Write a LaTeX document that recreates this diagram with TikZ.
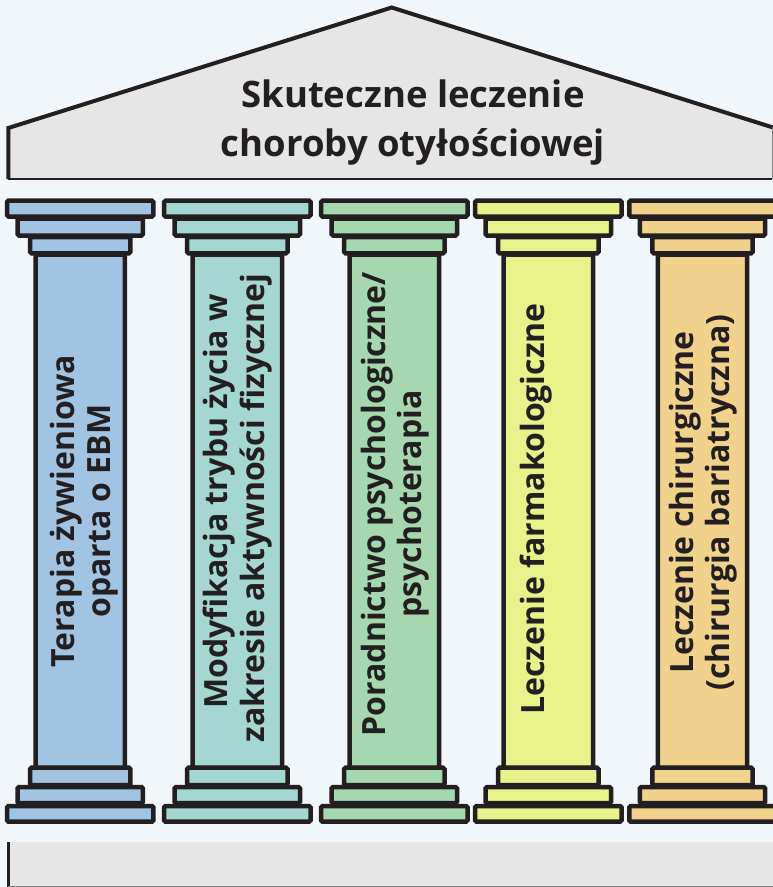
\documentclass[tikz,border=0pt]{standalone}
\usepackage{fontspec}
\setmainfont{Open Sans}
\definecolor{bg}{HTML}{F0F6FA}
\definecolor{ink}{HTML}{231F20}
\definecolor{roofc}{HTML}{E6E6E6}
\definecolor{cA}{HTML}{A0C4E2}
\definecolor{cB}{HTML}{A4D6D2}
\definecolor{cC}{HTML}{A6D8B0}
\definecolor{cD}{HTML}{E8F28A}
\definecolor{cE}{HTML}{F0D28C}
\tikzset{
  pil/.style={draw=ink, line width=4.5pt, rounded corners=1.5pt},
  pilltext/.style={rotate=90, align=center, inner sep=0pt, text=ink,
    font=\bfseries\fontsize{32}{36.5}\selectfont},
  titletext/.style={align=center, inner sep=0pt, text=ink,
    font=\bfseries\fontsize{36.5}{49}\selectfont},
}
\newcommand\mypillar[2]{%
  \draw[pil, fill=#2] ({#1-44.7},254.5) rectangle ({#1+44.7},768);
  \draw[pil, fill=#2] ({#1-50.2},237) rectangle ({#1+50.2},253.3);
  \draw[pil, fill=#2] ({#1-62.7},218.5) rectangle ({#1+62.7},235.5);
  \draw[pil, fill=#2] ({#1-73.2},200.6) rectangle ({#1+73.2},216.5);
  \draw[pil, fill=#2] ({#1-50.2},767.7) rectangle ({#1+50.2},785);
  \draw[pil, fill=#2] ({#1-62.7},787) rectangle ({#1+62.7},803.2);
  \draw[pil, fill=#2] ({#1-73.2},806) rectangle ({#1+73.2},821.7);
}
\begin{document}
\begin{tikzpicture}[x=1pt,y=-1pt]
\useasboundingbox (0,0) rectangle (773,887);
\fill[bg] (0,0) rectangle (773,887);
\begin{scope}
\clip (0,0) rectangle (773,887);
% roof
\fill[roofc] (8.5,179) -- (8.5,128) -- (391.7,7.5) -- (772,127.3) -- (772,179) -- cycle;
\draw[ink, line width=4pt, line join=miter] (8.3,179) -- (8.3,128) -- (391.7,7.5) -- (781,130);
\draw[ink, line width=1.5pt] (8.3,179) -- (772,179);
\draw[gray, line width=1pt] (772,127.3) -- (772,179);
\node[titletext] (title) at (413,123) {Skuteczne leczenie\\choroby otyłościowej};
% pillars
\mypillar{80.2}{cA}
\mypillar{237.3}{cB}
\mypillar{394.3}{cC}
\mypillar{548.3}{cD}
\mypillar{702.5}{cE}
\node[pilltext] (p1) at (84.4,511) {Terapia żywieniowa\\oparta o EBM};
\node[pilltext] (p2) at (237.5,508) {\hspace*{13pt}Modyfikacja trybu życia w\\zakresie aktywności fizycznej};
\node[pilltext] (p3) at (395,504) {Poradnictwo psychologiczne/\\psychoterapia};
\node[pilltext] (p4) at (536,509) {Leczenie farmakologiczne};
\node[pilltext] (p5) at (703,502.5) {Leczenie chirurgiczne\\(chirurgia bariatryczna)};
% base
\fill[roofc] (8.3,842) rectangle (773,887);
\draw[ink, line width=3.4pt] (8.3,842) -- (8.3,887);
\draw[gray, line width=1pt] (8.3,886.3) -- (773,886.3);
\end{scope}
\end{tikzpicture}
\end{document}
